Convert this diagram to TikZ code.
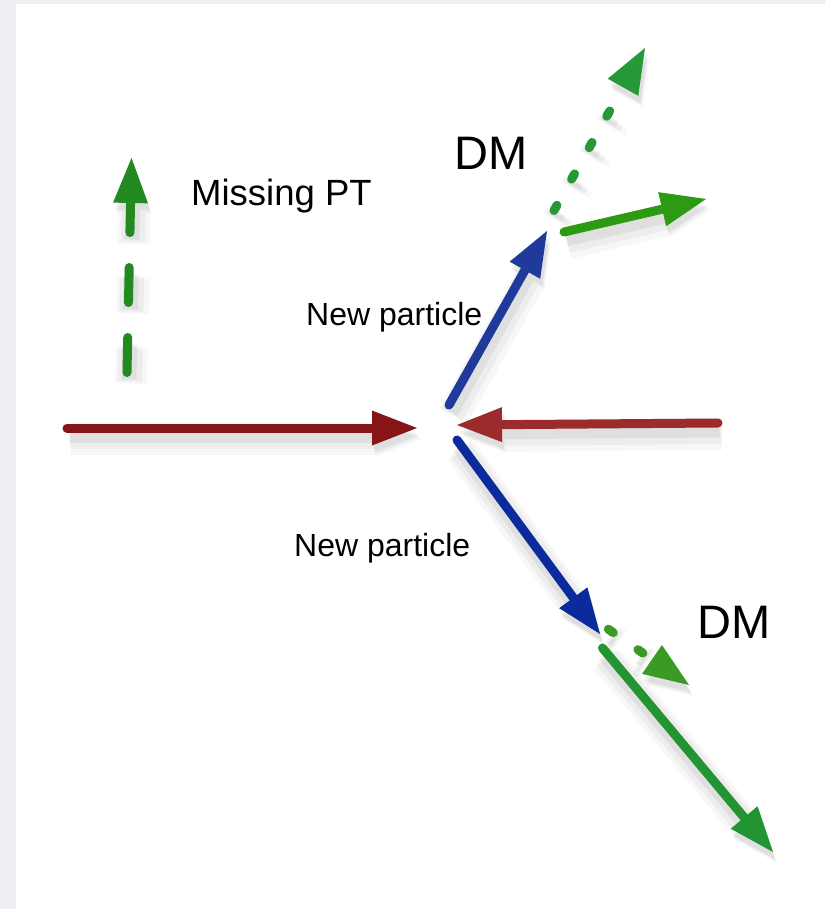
\documentclass[tikz,border=0pt]{standalone}
\usepackage{fontspec}
\setmainfont{Liberation Sans}
\usetikzlibrary{arrows.meta}

\definecolor{frame}{HTML}{EEEEF4}
\definecolor{beamL}{HTML}{861518}
\definecolor{beamR}{HTML}{9C2B2B}
\definecolor{npUp}{HTML}{1F3A9B}
\definecolor{npDown}{HTML}{0B2A9C}
\definecolor{gMiss}{HTML}{238A22}
\definecolor{gDotUp}{HTML}{259838}
\definecolor{gSolidUp}{HTML}{2C9B12}
\definecolor{gDotDown}{HTML}{3A9A24}
\definecolor{gSolidDown}{HTML}{239434}

\tikzset{
  % thick particle track with a soft drop shadow underneath;
  % the argument is the dash style, shared by track and shadow
  track/.style={
    line width=9pt, line cap=round, #1,
    -{Triangle[length=45pt,width=35pt,line width=0pt]},
    preaction={draw=black, #1, opacity=0.03, line width=32pt,
      transform canvas={shift={(4pt,-11pt)}}},
    preaction={draw=black, #1, opacity=0.04, line width=24pt,
      transform canvas={shift={(3pt,-9pt)}}},
    preaction={draw=black, #1, opacity=0.055, line width=15pt,
      transform canvas={shift={(2pt,-7pt)}}}
  },
  track/.default={solid},
  longdash/.style={dash pattern=on 35pt off 35pt},
  shortdash/.style={dash pattern=on 6pt off 30pt},
  lbl/.style={inner sep=0pt, anchor=base west, text=black},
}

\newcommand{\dmfont}{\fontsize{47pt}{51pt}\selectfont}
\newcommand{\misfont}{\fontsize{36.5pt}{40pt}\selectfont}
\newcommand{\npfont}{\fontsize{32pt}{36pt}\selectfont}

\begin{document}
\begin{tikzpicture}[x=1pt, y=-1pt]
  % page and backdrop
  \fill[frame] (0,0) rectangle (825,909);
  \fill[white] (16,4) rectangle (825,909);
  \useasboundingbox (0,0) rectangle (825,909);

  % end points of the tracks
  \coordinate (mptS) at (127,372.5);
  \coordinate (mptE) at (131.5,158);
  \coordinate (inL) at (67,428);
  \coordinate (vtxL) at (417,428);
  \coordinate (inR) at (718,423);
  \coordinate (vtxR) at (457,425);
  \coordinate (npUpS) at (449,405);
  \coordinate (npUpE) at (547,231);
  \coordinate (npDnS) at (457,440);
  \coordinate (npDnE) at (600,634);
  \coordinate (dmUpS) at (554,210.5);
  \coordinate (dmUpE) at (645,48);
  \coordinate (visUpS) at (564,232);
  \coordinate (visUpE) at (706,199);
  \coordinate (dmDnS) at (608.3,629.2);
  \coordinate (dmDnE) at (689,685);
  \coordinate (visDnS) at (602.5,648);
  \coordinate (visDnE) at (773,852);

  % missing transverse momentum
  \draw[track=longdash, gMiss] (mptS) -- (mptE);

  % incoming beams
  \draw[track, beamL] (inL) -- (vtxL);
  \draw[track, beamR] (inR) -- (vtxR);

  % new particles
  \draw[track, npUp] (npUpS) -- (npUpE);
  \draw[track, npDown] (npDnS) -- (npDnE);

  % decay products
  \draw[track=shortdash, gDotUp] (dmUpS) -- (dmUpE);
  \draw[track, gSolidUp] (visUpS) -- (visUpE);
  \draw[track=shortdash, gDotDown] (dmDnS) -- (dmDnE);
  \draw[track, gSolidDown] (visDnS) -- (visDnE);

  % labels
  \node[lbl, font=\misfont] (missing) at (191,206) {Missing PT};
  \node[lbl, font=\dmfont] (dmTop) at (454,170) {DM};
  \node[lbl, font=\dmfont] (dmBottom) at (697,638) {DM};
  \node[lbl, font=\npfont] (npTop) at (306,325) {New particle};
  \node[lbl, font=\npfont] (npBottom) at (294,556) {New particle};
\end{tikzpicture}
\end{document}
